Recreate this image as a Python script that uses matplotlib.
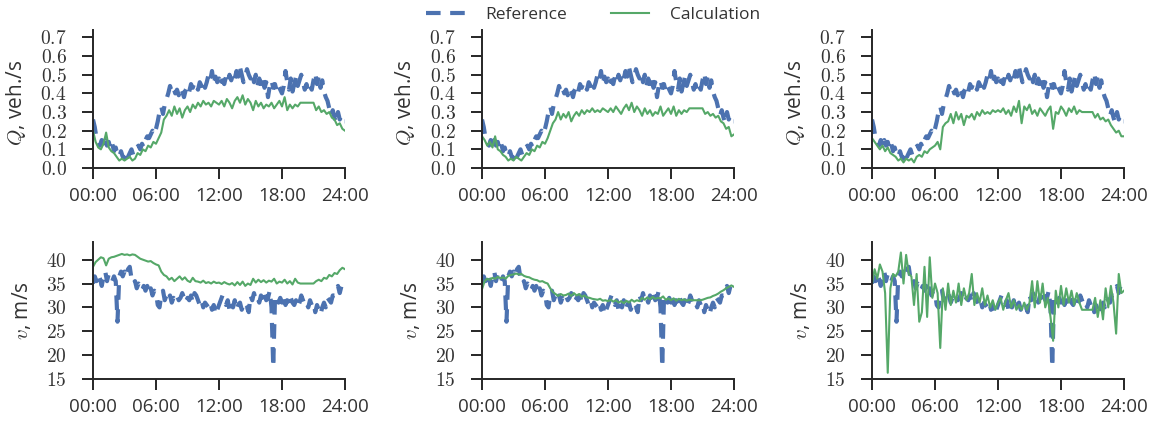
import numpy as np
import matplotlib
matplotlib.use("Agg")
import matplotlib.pyplot as plt
from matplotlib.ticker import FuncFormatter

# reference series are sampled every 10 min, calculated ones every 15 min (hours)
hours_ref = np.linspace(0, 24, 145)
hours_calc = np.linspace(0, 24, 97)
hour_ticks = [0, 6, 12, 18, 24]
hour_labels = ["00:00", "06:00", "12:00", "18:00", "24:00"]

# reference flow, veh./s (same in all three columns)
q_ref = [0.26, 0.22, 0.16, 0.14, 0.12, 0.15,
         0.11, 0.15, 0.12, 0.14, 0.10, 0.13,
         0.09, 0.11, 0.07, 0.06, 0.09, 0.06,
         0.05, 0.09, 0.06, 0.08, 0.10, 0.07,
         0.08, 0.11, 0.12, 0.10, 0.13, 0.11,
         0.15, 0.17, 0.16, 0.18, 0.20, 0.18,
         0.21, 0.25, 0.30, 0.33, 0.29, 0.34,
         0.37, 0.40, 0.44, 0.41, 0.43, 0.40,
         0.42, 0.39, 0.43, 0.41, 0.38, 0.42,
         0.44, 0.41, 0.45, 0.43, 0.46, 0.44,
         0.42, 0.46, 0.44, 0.47, 0.43, 0.46,
         0.50, 0.47, 0.52, 0.45, 0.49, 0.46,
         0.48, 0.44, 0.47, 0.45, 0.49, 0.46,
         0.50, 0.47, 0.51, 0.48, 0.52, 0.49,
         0.54, 0.50, 0.46, 0.49, 0.53, 0.50,
         0.48, 0.51, 0.46, 0.50, 0.44, 0.48,
         0.45, 0.49, 0.43, 0.46, 0.38, 0.44,
         0.47, 0.43, 0.45, 0.41, 0.44, 0.42,
         0.40, 0.44, 0.52, 0.46, 0.42, 0.48,
         0.41, 0.45, 0.49, 0.44, 0.47, 0.50,
         0.46, 0.42, 0.45, 0.41, 0.44, 0.42,
         0.47, 0.51, 0.45, 0.49, 0.43, 0.47,
         0.41, 0.38, 0.36, 0.32, 0.28, 0.31,
         0.27, 0.24, 0.30, 0.26, 0.28, 0.25,
         0.25]

# calculated flow, one series per column
q_calc_1 = [0.20, 0.14, 0.11, 0.10, 0.13, 0.19, 0.11, 0.09, 0.08, 0.06, 0.04, 0.05,
            0.04, 0.05, 0.06, 0.04, 0.05, 0.08, 0.07, 0.10, 0.09, 0.12, 0.11, 0.14,
            0.13, 0.16, 0.19, 0.26, 0.28, 0.31, 0.28, 0.33, 0.29, 0.32, 0.27, 0.31,
            0.33, 0.30, 0.34, 0.32, 0.35, 0.33, 0.36, 0.34, 0.35, 0.33, 0.36, 0.35,
            0.34, 0.36, 0.33, 0.37, 0.35, 0.32, 0.36, 0.38, 0.35, 0.39, 0.34, 0.37,
            0.35, 0.31, 0.36, 0.33, 0.35, 0.32, 0.34, 0.33, 0.35, 0.32, 0.34, 0.36,
            0.33, 0.38, 0.31, 0.34, 0.32, 0.34, 0.33, 0.35, 0.35, 0.35, 0.35, 0.35,
            0.35, 0.31, 0.33, 0.30, 0.31, 0.29, 0.30, 0.27, 0.26, 0.23, 0.24, 0.21,
            0.20]
q_calc_2 = [0.17, 0.15, 0.12, 0.14, 0.11, 0.17, 0.10, 0.09, 0.07, 0.06, 0.04, 0.05,
            0.04, 0.06, 0.05, 0.04, 0.06, 0.08, 0.07, 0.10, 0.09, 0.12, 0.11, 0.14,
            0.13, 0.16, 0.20, 0.24, 0.26, 0.30, 0.26, 0.29, 0.27, 0.30, 0.25, 0.28,
            0.30, 0.28, 0.31, 0.29, 0.31, 0.30, 0.32, 0.30, 0.31, 0.30, 0.32, 0.31,
            0.30, 0.32, 0.30, 0.33, 0.31, 0.29, 0.32, 0.34, 0.31, 0.35, 0.30, 0.33,
            0.31, 0.28, 0.32, 0.29, 0.31, 0.28, 0.30, 0.29, 0.33, 0.28, 0.30, 0.32,
            0.29, 0.33, 0.28, 0.31, 0.29, 0.31, 0.30, 0.32, 0.32, 0.32, 0.32, 0.32,
            0.32, 0.29, 0.30, 0.28, 0.29, 0.27, 0.28, 0.25, 0.24, 0.21, 0.22, 0.17,
            0.18]
q_calc_3 = [0.16, 0.14, 0.12, 0.10, 0.12, 0.09, 0.11, 0.08, 0.07, 0.06, 0.04, 0.05,
            0.03, 0.05, 0.04, 0.05, 0.03, 0.06, 0.07, 0.06, 0.09, 0.08, 0.10, 0.11,
            0.12, 0.14, 0.10, 0.22, 0.24, 0.25, 0.29, 0.24, 0.30, 0.26, 0.29, 0.23,
            0.28, 0.27, 0.29, 0.26, 0.30, 0.28, 0.31, 0.29, 0.30, 0.29, 0.31, 0.30,
            0.31, 0.30, 0.32, 0.29, 0.31, 0.28, 0.33, 0.30, 0.36, 0.24, 0.33, 0.31,
            0.34, 0.29, 0.31, 0.28, 0.32, 0.30, 0.28, 0.31, 0.33, 0.21, 0.30, 0.29,
            0.33, 0.31, 0.28, 0.32, 0.30, 0.33, 0.29, 0.31, 0.30, 0.30, 0.30, 0.30,
            0.30, 0.27, 0.29, 0.26, 0.27, 0.25, 0.26, 0.23, 0.21, 0.19, 0.20, 0.17,
            0.17]

# reference speed, m/s
v_ref = [35.0, 36.5, 35.5, 37.0, 36.0, 34.5,
         36.5, 37.5, 35.5, 37.0, 36.0, 35.5,
         36.5, 35.5, 27.0, 36.5, 37.5, 36.5,
         37.5, 36.5, 38.0, 38.5, 36.0, 35.0,
         35.5, 34.0, 35.0, 34.5, 33.5, 34.5,
         33.5, 34.5, 33.0, 34.0, 32.5, 33.5,
         33.0, 30.5, 30.0, 32.5, 33.5, 31.5,
         32.5, 31.5, 32.5, 31.0, 32.0, 31.5,
         32.5, 31.5, 32.0, 33.0, 32.0, 31.0,
         32.0, 31.5, 32.5, 31.0, 33.0, 32.5,
         31.5, 30.5, 31.5, 30.0, 31.0, 30.5,
         30.0, 31.0, 29.5, 30.5, 28.5, 29.5,
         30.5, 31.5, 32.5, 31.0, 30.5, 31.5,
         29.5, 31.0, 30.0, 31.5, 29.5, 30.5,
         31.0, 29.5, 30.5, 29.5, 30.0, 29.0,
         32.5, 31.5, 33.0, 31.5, 32.0, 31.0,
         32.5, 31.5, 33.0, 31.5, 32.0, 33.5,
         30.0, 17.5, 32.0, 32.5, 31.0, 32.0,
         31.0, 32.5, 30.5, 31.5, 30.5, 32.0,
         31.0, 30.5, 31.5, 30.0, 31.0, 32.5,
         31.5, 30.5, 31.0, 30.0, 31.5, 30.5,
         31.0, 29.0, 30.5, 29.5, 28.5, 30.0,
         31.0, 30.0, 32.0, 31.5, 31.0, 32.5,
         32.5, 33.5, 34.5, 33.0, 34.5, 33.5,
         34.0]

# calculated speed, one series per column
v_calc_1 = [38.5, 39.5, 40.0, 40.5, 40.3, 38.8, 40.2, 40.5, 40.6, 40.8, 41.0, 41.2,
            41.0, 41.1, 40.9, 41.1, 41.0, 40.6, 40.2, 40.0, 39.8, 39.6, 39.7, 39.3,
            39.0, 38.8, 37.5, 36.8, 36.5, 35.8, 36.2, 35.5, 36.0, 36.5, 35.8, 36.3,
            35.6, 35.3, 36.2, 35.5, 35.4, 35.2, 35.6, 35.1, 35.3, 35.0, 35.4, 35.1,
            35.2, 34.9, 35.3, 35.0, 34.8, 35.1, 34.6, 35.3, 34.7, 35.4, 34.5, 35.0,
            34.7, 36.0, 35.2, 35.8, 35.3, 35.7, 35.2, 35.6, 35.4, 36.0, 35.0, 35.4,
            35.2, 35.8, 35.0, 35.5, 34.8, 36.0, 35.2, 35.0, 35.0, 35.0, 35.0, 35.0,
            35.0, 35.5, 35.8, 35.5, 36.2, 36.0, 36.8, 36.5, 37.2, 37.0, 37.8, 38.3,
            38.0]
v_calc_2 = [33.8, 35.5, 36.0, 35.8, 36.2, 36.0, 36.4, 36.1, 36.3, 36.0, 36.6, 36.8,
            36.9, 37.1, 36.9, 37.0, 36.6, 36.4, 36.3, 36.0, 35.8, 35.7, 35.4, 35.5,
            35.2, 35.0, 34.0, 33.2, 32.8, 32.4, 32.8, 32.5, 32.6, 32.9, 32.4, 33.0,
            32.5, 32.8, 32.2, 32.5, 32.1, 32.0, 31.8, 31.7, 31.6, 31.8, 31.4, 31.5,
            31.3, 31.6, 31.2, 31.5, 31.0, 31.3, 30.9, 31.4, 31.0, 31.6, 31.2, 31.5,
            31.3, 32.0, 31.6, 32.1, 31.7, 32.2, 31.8, 32.0, 31.9, 32.3, 31.6, 31.9,
            31.5, 31.9, 31.4, 31.8, 31.5, 31.7, 31.4, 31.6, 31.5, 31.5, 31.5, 31.5,
            31.6, 31.8, 32.0, 32.1, 32.4, 32.6, 32.9, 33.3, 33.6, 34.0, 34.3, 34.6,
            34.3]
v_calc_3 = [35.0, 38.0, 36.0, 39.0, 37.5, 33.0, 16.3, 34.0, 37.0, 36.5, 37.5, 41.5,
            35.0, 41.0, 37.0, 36.5, 30.5, 37.0, 27.0, 29.0, 38.5, 28.0, 40.5, 32.0,
            35.0, 33.0, 21.5, 34.0, 29.5, 35.0, 30.5, 33.5, 31.0, 35.0, 30.5, 34.0,
            31.5, 33.0, 37.0, 30.5, 33.0, 31.0, 34.0, 30.5, 32.5, 30.0, 31.5, 29.5,
            31.0, 32.0, 29.5, 31.5, 33.0, 30.0, 31.5, 29.5, 30.5, 29.5, 31.0, 29.5,
            31.0, 35.5, 30.0, 35.5, 31.0, 35.0, 30.0, 32.0, 28.0, 23.0, 33.5, 30.0,
            34.5, 30.5, 34.0, 31.0, 33.5, 30.5, 33.0, 31.0, 29.5, 29.5, 29.5, 29.5,
            29.5, 32.0, 28.0, 31.5, 27.5, 34.0, 30.0, 34.5, 31.0, 24.5, 37.0, 33.0,
            33.5]

q_calcs = [q_calc_1, q_calc_2, q_calc_3]
v_calcs = [v_calc_1, v_calc_2, v_calc_3]

BLUE = "#4C72B0"
GREEN = "#55A868"
TEXT = "#333333"
SANS = ["Open Sans", "DejaVu Sans"]

plt.rcParams["font.family"] = SANS
plt.rcParams["mathtext.fontset"] = "cm"
plt.rcParams["text.color"] = TEXT
plt.rcParams["axes.labelcolor"] = TEXT
plt.rcParams["xtick.color"] = "#262626"
plt.rcParams["ytick.color"] = "#262626"

fig = plt.figure(figsize=(11.53, 4.29), dpi=100)

lefts = [93 / 1153, 482 / 1153, 872 / 1153]
width = 252 / 1153
top_row = (1 - 168 / 429, (168 - 30) / 429)
bot_row = (1 - 379 / 429, (379 - 242) / 429)


def style_axis(ax, ylim, yticks, fmt):
    ax.set_xlim(0, 24)
    ax.set_ylim(*ylim)
    ax.set_xticks(hour_ticks)
    ax.set_xticklabels(hour_labels, fontsize=13.5, color=TEXT)
    ax.set_yticks(yticks)
    ax.yaxis.set_major_formatter(FuncFormatter(fmt))
    for s in ["top", "right"]:
        ax.spines[s].set_visible(False)
    for s in ["left", "bottom"]:
        ax.spines[s].set_linewidth(1.4)
        ax.spines[s].set_color("#262626")
    ax.tick_params(axis="both", direction="out", length=8, width=1.4)
    ax.tick_params(axis="x", pad=6)
    ax.tick_params(axis="y", pad=11, labelsize=14, labelcolor=TEXT)


for col in range(3):
    ax = fig.add_axes([lefts[col], top_row[0], width, top_row[1]])
    ax.plot(hours_ref, q_ref, color=BLUE, lw=3, dashes=(3.5, 2.3), label="Reference")
    ax.plot(hours_calc, q_calcs[col], color=GREEN, lw=1.5, label="Calculation")
    style_axis(ax, (0, 0.74), np.arange(0, 0.71, 0.1), lambda v, p: r"$%.1f$" % v)
    ax.set_ylabel(r"$Q$, veh./s", fontsize=15)
    ax.yaxis.set_label_coords(-0.258, 0.47)
    if col == 0:
        handles, labels = ax.get_legend_handles_labels()

    ax = fig.add_axes([lefts[col], bot_row[0], width, bot_row[1]])
    ax.plot(hours_ref, v_ref, color=BLUE, lw=3, dashes=(3.5, 2.3))
    ax.plot(hours_calc, v_calcs[col], color=GREEN, lw=1.5)
    style_axis(ax, (15, 43.7), [15, 20, 25, 30, 35, 40], lambda v, p: r"$%d$" % v)
    ax.set_ylabel(r"$v$, m/s", fontsize=15)
    ax.yaxis.set_label_coords(-0.238, 0.5)

fig.legend(handles, labels, loc="center", ncol=2, frameon=False, fontsize=12.5,
           bbox_to_anchor=(593 / 1153, 1 - 15 / 429), handlelength=2.2,
           handletextpad=1.2, columnspacing=2.5)

fig.savefig("out.png", dpi=100)
